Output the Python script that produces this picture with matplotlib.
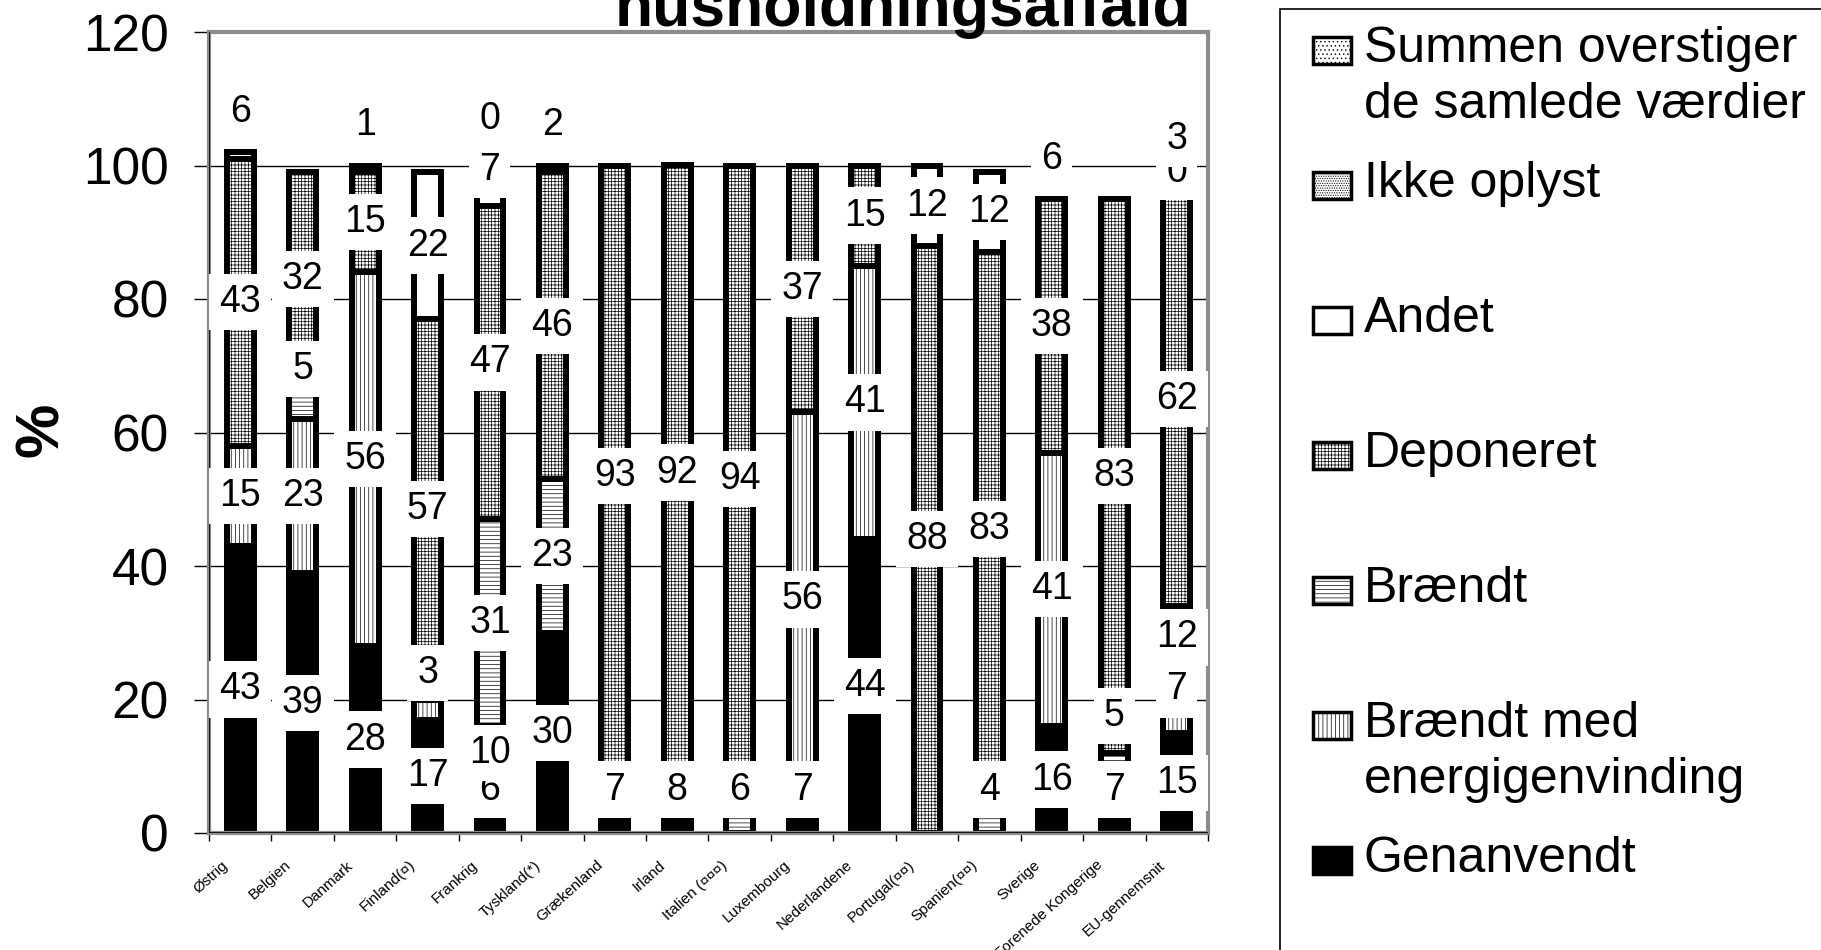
import numpy as np
import matplotlib.pyplot as plt
from matplotlib.patches import Rectangle

plt.rcParams['font.family'] = ['Liberation Sans', 'DejaVu Sans']
plt.rcParams['hatch.linewidth'] = 0.5

# data (percent)
countries = ['Østrig', 'Belgien', 'Danmark', 'Finland(¤)', 'Frankrig', 'Tyskland(*)',
             'Grækenland', 'Irland', 'Italien (¤¤¤)', 'Luxembourg', 'Nederlandene',
             'Portugal(¤¤)', 'Spanien(¤¤)', 'Sverige', 'Forenede Kongerige', 'EU-gennemsnit']
genanvendt     = [43, 39, 28, 17, 6, 30, 7, 8, 0, 7, 44, 0, 0, 16, 7, 15]
braendt_energi = [15, 23, 56, 3, 10, 0, 0, 0, 0, 56, 41, 0, 0, 41, 0, 7]
braendt        = [0, 5, 0, 0, 31, 23, 0, 0, 6, 0, 0, 0, 4, 0, 5, 12]
deponeret      = [43, 32, 15, 57, 47, 46, 93, 92, 94, 37, 15, 88, 83, 38, 83, 62]
andet          = [0, 0, 0, 22, 7, 0, 0, 0, 0, 0, 0, 12, 12, 0, 0, 0]
ikke_oplyst    = [0, 0, 1, 0, 0, 1, 0, 0, 0, 0, 0, 0, 0, 0, 0, 0]
summen         = [1, 0, 0, 0, 0, 0, 0, 0, 0, 0, 0, 0, 0, 0, 0, 0]
# numbers printed above the bars
top_notes = [['6'], [], ['1'], [], ['0'], ['2'], [], [], [], [], [], [], [], ['6'], [], ['0', '3']]

series = [genanvendt, braendt_energi, braendt, deponeret, andet, ikke_oplyst, summen]
names = ['Genanvendt', 'Brændt med\nenergigenvinding', 'Brændt', 'Deponeret', 'Andet',
         'Ikke oplyst', 'Summen overstiger\nde samlede værdier']
faces = ['black', 'white', 'white', 'white', 'white', 'white', 'white']
hatches = [None, '||||', '----', '+++++', None, '.......', '....']

# manual label shifts (country, series) -> dy, as in the original
nudge = {(1, 2): 5, (3, 1): 5.5, (4, 1): 1, (4, 4): 1.8, (14, 2): 8, (15, 1): 3, (15, 2): 1.3}
note_shift = {15: -3}

W, H = 1821, 950
fig = plt.figure(figsize=(W / 100, H / 100), dpi=100)
ax = fig.add_axes([209 / W, 1 - 833 / H, 999 / W, 801 / H])

x = np.arange(len(countries))
vals = np.array(series, dtype=float)
bottoms = np.vstack([np.zeros(len(x)), np.cumsum(vals, axis=0)[:-1]])
tops = vals.sum(axis=0)

for k in range(len(series)):
    m = vals[k] > 0
    ax.bar(x[m], vals[k][m], bottom=bottoms[k][m], width=0.43, color=faces[k],
           edgecolor='black', linewidth=4.3, hatch=hatches[k], zorder=2)

lab_kw = dict(ha='center', va='center', fontsize=27, zorder=5,
              bbox=dict(boxstyle='square,pad=0.27', fc='white', ec='none'))
for k in range(5):
    for i in x:
        v = vals[k][i]
        if v <= 0:
            continue
        y = max(bottoms[k][i] + v / 2, 6.5) + nudge.get((i, k), 0)
        ax.text(i, y, f'{v:.0f}', **lab_kw)

for i in x:
    for j, t in enumerate(top_notes[i]):
        ax.text(i, tops[i] + 6 + 5 * j + note_shift.get(i, 0), t, **lab_kw)

ax.set_xlim(-0.5, len(x) - 0.5)
ax.set_ylim(0, 120)
ax.set_yticks(range(0, 121, 20))
ax.yaxis.grid(True, color='black', linewidth=1)
ax.set_axisbelow(True)
ax.tick_params(axis='y', labelsize=37, length=11, width=1, direction='out', pad=18)

ax.set_xticks(x - 0.3)
ax.set_xticklabels(countries, rotation=42, ha='right', va='top',
                   rotation_mode='anchor', fontsize=11)
ax.tick_params(axis='x', which='major', length=0, pad=18)
ax.set_xticks(np.arange(-0.5, len(x)), minor=True)
ax.tick_params(axis='x', which='minor', length=6, width=1, direction='out')

for s in ax.spines.values():
    s.set_color('#8c8c8c')
    s.set_linewidth(3)
ax.axvline(-0.5, color='black', linewidth=1.2, zorder=3)
ax.axhline(0, color='black', linewidth=1.2, zorder=3)

fig.text(43 / W, 1 - 430 / H, '%', rotation=90, fontsize=44, fontweight='bold',
         ha='center', va='center')
fig.text(903 / W, 1 - 26 / H, 'husholdningsaffald', fontsize=45, fontweight='bold',
         ha='center', va='baseline')

# legend, drawn by hand to keep the row spacing of the original
fig.add_artist(Rectangle((1280 / W, -0.05), 0.5, 1 - 9 / H + 0.05, transform=fig.transFigure,
                         fill=False, edgecolor='black', linewidth=1.2))
for r, k in enumerate(range(len(series) - 1, -1, -1)):
    yc = 49 + 135 * r
    fig.add_artist(Rectangle((1313 / W, 1 - (yc + 15) / H), 38 / W, 27 / H,
                             transform=fig.transFigure, facecolor=faces[k],
                             edgecolor='black', linewidth=2.5, hatch=hatches[k]))
    for j, line in enumerate(names[k].split('\n')):
        fig.text(1364 / W, 1 - (yc + 56 * j) / H, line, fontsize=36,
                 ha='left', va='center')

fig.savefig('out.png', dpi=100)
